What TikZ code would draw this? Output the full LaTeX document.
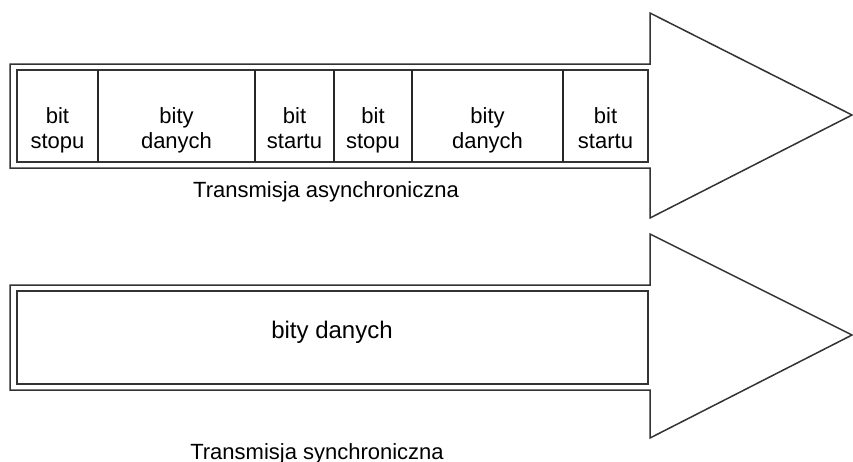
\documentclass[tikz,border=0pt]{standalone}
\usepackage{fontspec}
\setmainfont{Liberation Sans}
\tikzset{
  frame/.style={draw=black!80, line width=1.5pt},
  cellline/.style={draw=black!85, line width=1.1pt},
  celltext/.style={anchor=north, inner sep=0pt, align=center, font=\fontsize{22}{25}\selectfont},
  caption/.style={anchor=base, inner sep=0pt, font=\fontsize{22}{25}\selectfont}
}

\begin{document}
\begin{tikzpicture}[x=1pt,y=-1pt]
\useasboundingbox (0,0) rectangle (853,461);
% asynchronous frame
\draw[frame] (10,64) -- (650,64) -- (650,13) -- (852,115) -- (650,218) -- (650,168) -- (10,168) -- cycle;
\draw[frame] (17,70) rectangle (648,162);
\draw[cellline] (98,70) -- (98,162);
\draw[cellline] (255,70) -- (255,162);
\draw[cellline] (334,70) -- (334,162);
\draw[cellline] (412,70) -- (412,162);
\draw[cellline] (563,70) -- (563,162);
\node[celltext] (stopa) at (57.5,107) {bit\\stopu};
\node[celltext] (dataa) at (176.5,107) {bity\\danych};
\node[celltext] (starta) at (294.5,107) {bit\\startu};
\node[celltext] (stopb) at (373,107) {bit\\stopu};
\node[celltext] (datab) at (487.5,107) {bity\\danych};
\node[celltext] (startb) at (605.5,107) {bit\\startu};
\node[caption] (async) at (326,197) {Transmisja asynchroniczna};
% synchronous frame
\draw[frame] (10,285) -- (650,285) -- (650,234) -- (852,335) -- (650,438) -- (650,390) -- (10,390) -- cycle;
\draw[frame] (17,291) rectangle (648,384);
\node[caption, font=\fontsize{24}{26}\selectfont] (block) at (332,338) {bity danych};
\node[caption] (sync) at (317,459) {Transmisja synchroniczna};
\end{tikzpicture}
\end{document}
